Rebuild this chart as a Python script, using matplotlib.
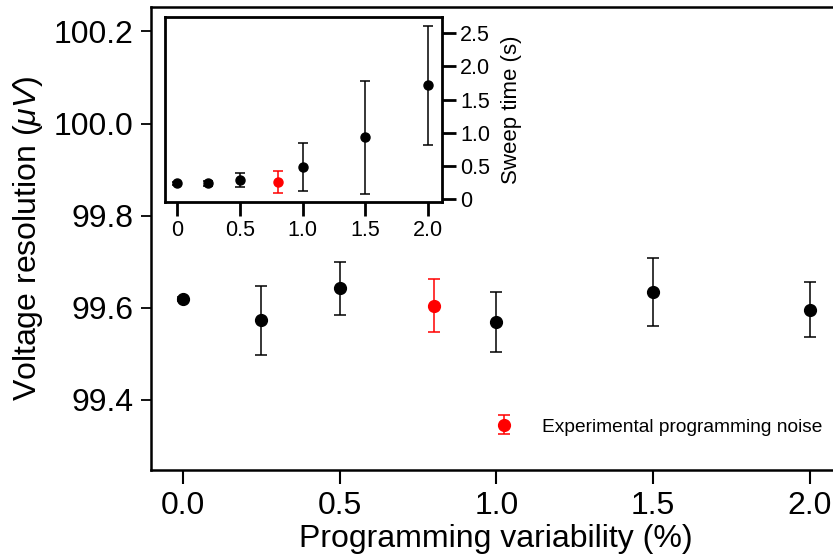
import numpy as np
import matplotlib.pyplot as plt
from matplotlib.ticker import FuncFormatter

plt.rcParams['font.family'] = ['Liberation Sans', 'DejaVu Sans']
plt.rcParams['mathtext.fontset'] = 'custom'
plt.rcParams['mathtext.it'] = 'Liberation Sans:italic'

# main panel: voltage resolution vs programming variability
var_pct = [0.0, 0.25, 0.5, 1.0, 1.5, 2.0]
res_uv = [99.619, 99.573, 99.642, 99.570, 99.635, 99.596]
res_err = [0.005, 0.075, 0.058, 0.065, 0.074, 0.060]

# experimental point (red)
exp_pct = [0.8]
exp_res = [99.605]
exp_res_err = [0.058]

# inset: sweep time
sweep_s = [0.237, 0.237, 0.287, 0.487, 0.93, 1.715]
sweep_err = [0.02, 0.04, 0.11, 0.36, 0.85, 0.90]
exp_sweep = [0.26]
exp_sweep_err = [0.166]

fig = plt.figure(figsize=(8.33, 5.58), dpi=100)
W, H = 833, 558

ax = fig.add_axes([151 / W, (H - 470) / H, (841 - 151) / W, (470 - 7) / H])
ax.errorbar(var_pct, res_uv, yerr=res_err, fmt='o', color='black', ms=8.5,
            capsize=4.5, elinewidth=1.1, capthick=1.1)
ax.errorbar(exp_pct, exp_res, yerr=exp_res_err, fmt='o', color='red', ms=8.5,
            capsize=4.5, elinewidth=1.1, capthick=1.1,
            label='Experimental programming noise')
ax.set_xlim(-0.102, 2.1)
ax.set_ylim(99.248, 100.253)
ax.set_xticks([0.0, 0.5, 1.0, 1.5, 2.0])
ax.set_yticks([99.4, 99.6, 99.8, 100.0, 100.2])
ax.tick_params(axis='x', direction='out', length=10, width=1.5, labelsize=23, pad=5)
ax.tick_params(axis='y', direction='out', length=7.5, width=1.3, labelsize=23, pad=5)
for s in ax.spines.values():
    s.set_linewidth(1.8)
ax.set_xlabel('Programming variability (%)', fontsize=23, labelpad=2)
ax.set_ylabel(r'Voltage resolution ($\mu V$)', fontsize=23, labelpad=6)
ax.legend(loc='lower right', bbox_to_anchor=(0.998, 0.037), frameon=False,
          fontsize=13.8, handletextpad=1.0)

# inset
axi = fig.add_axes([165 / W, (H - 202) / H, (442 - 165) / W, (202 - 17) / H])
axi.errorbar(var_pct, sweep_s, yerr=sweep_err, fmt='o', color='black', ms=6.5,
             capsize=3.5, elinewidth=1.1, capthick=1.1)
axi.errorbar(exp_pct, exp_sweep, yerr=exp_sweep_err, fmt='o', color='red', ms=6.5,
             capsize=3.5, elinewidth=1.1, capthick=1.1)
axi.set_xlim(-0.096, 2.11)
axi.set_ylim(-0.045, 2.745)
axi.set_xticks([0, 0.5, 1.0, 1.5, 2.0])
axi.set_yticks([0, 0.5, 1.0, 1.5, 2.0, 2.5])
fmt = FuncFormatter(lambda v, p: '0' if v == 0 else '%.1f' % v)
axi.xaxis.set_major_formatter(fmt)
axi.yaxis.set_major_formatter(fmt)
axi.yaxis.tick_right()
axi.yaxis.set_label_position('right')
axi.tick_params(direction='out', length=10, width=2, labelsize=15.5, pad=3)
for s in axi.spines.values():
    s.set_linewidth(2)
axi.set_ylabel('Sweep time (s)', fontsize=16, labelpad=8)

fig.savefig('out.png', dpi=100)
